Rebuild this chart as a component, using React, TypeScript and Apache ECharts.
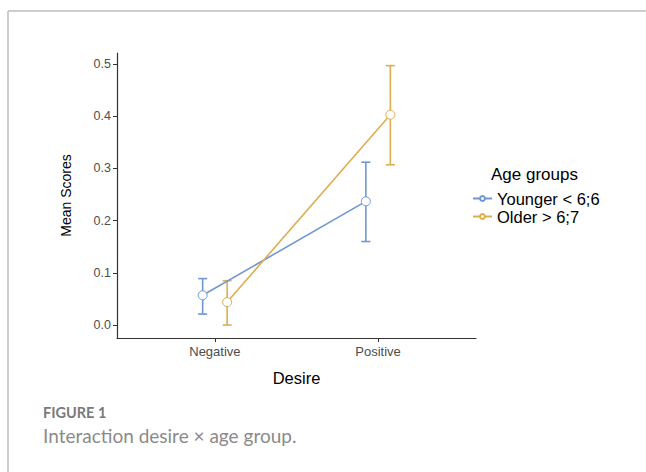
import React, { useEffect, useRef } from "react";
import * as echarts from "echarts";

const categories = ["Negative", "Positive"];
const groups = ["Younger < 6;6", "Older > 6;7"];
const colors = ["#7097d1", "#dcae50"];
const means = [
  [0.057, 0.237],
  [0.044, 0.403],
];
const lows = [
  [0.021, 0.16],
  [0.0, 0.307],
];
const highs = [
  [0.089, 0.312],
  [0.085, 0.497],
];
const yTicks = [0.0, 0.1, 0.2, 0.3, 0.4, 0.5];
const dodge = [-0.075, 0.075];

export default function App() {
  const ref = useRef<HTMLDivElement>(null);
  useEffect(() => {
    if (!ref.current) return;
    const chart = echarts.init(ref.current, null, { renderer: "svg" });
    const font = "Liberation Sans";
    const lineSeries: any[] = groups.map((g, gi) => ({
      name: g,
      type: "line",
      data: categories.map((_, ci) => [ci + 1 + dodge[gi], means[gi][ci]]),
      lineStyle: { color: colors[gi], width: 1.6 },
      itemStyle: { color: "#ffffff", borderColor: colors[gi], borderWidth: 1 },
      symbol: "circle",
      symbolSize: 9,
      z: 5,
    }));
    const errSeries: any[] = groups.map((g, gi) => ({
      name: g + " err",
      type: "custom",
      data: categories.map((_, ci) => [ci + 1 + dodge[gi], lows[gi][ci], highs[gi][ci]]),
      renderItem: (params: any, api: any) => {
        const x = api.value(0);
        const lo = api.coord([x, api.value(1)]);
        const hi = api.coord([x, api.value(2)]);
        const w = 4.5;
        const style = { stroke: colors[gi], lineWidth: 1.6 };
        return {
          type: "group",
          children: [
            { type: "line", shape: { x1: lo[0], y1: lo[1], x2: hi[0], y2: hi[1] }, style },
            { type: "line", shape: { x1: lo[0] - w, y1: lo[1], x2: lo[0] + w, y2: lo[1] }, style },
            { type: "line", shape: { x1: hi[0] - w, y1: hi[1], x2: hi[0] + w, y2: hi[1] }, style },
          ],
        };
      },
      z: 3,
    }));
    chart.setOption({
      animation: false,
      backgroundColor: "#ffffff",
      grid: { left: 117, right: 170, top: 53, bottom: 134 },
      xAxis: {
        type: "value",
        min: 0.4,
        max: 2.6,
        name: "Desire",
        nameLocation: "middle",
        nameGap: 31,
        nameTextStyle: { fontFamily: font, fontSize: 16.5, color: "#000" },
        axisLine: { show: true, onZero: false, lineStyle: { color: "#333", width: 1.2 } },
        axisTick: { show: true, customValues: [1, 2], length: 4, lineStyle: { color: "#333" } },
        axisLabel: {
          customValues: [1, 2],
          formatter: (v: number) => categories[Math.round(v) - 1] ?? "",
          fontFamily: font,
          fontSize: 13,
          color: "#4d4d4d",
          margin: 7,
        },
        splitLine: { show: false },
      },
      yAxis: {
        type: "value",
        min: -0.0248,
        max: 0.5212,
        name: "Mean Scores",
        nameLocation: "middle",
        nameGap: 44,
        nameTextStyle: { fontFamily: font, fontSize: 14, color: "#000" },
        axisLine: { show: true, lineStyle: { color: "#333", width: 1.2 } },
        axisTick: { show: true, customValues: yTicks, length: 4, lineStyle: { color: "#333" } },
        axisLabel: {
          customValues: yTicks,
          formatter: (v: number) => v.toFixed(1),
          fontFamily: font,
          fontSize: 12.5,
          color: "#4d4d4d",
          margin: 6,
        },
        splitLine: { show: false },
      },
      legend: {
        data: groups,
        orient: "vertical",
        left: 467,
        top: 185,
        itemGap: 1,
        itemWidth: 19,
        itemHeight: 6,
        textStyle: { fontFamily: font, fontSize: 16.5, color: "#000" },
      },
      graphic: [
        { type: "line", shape: { x1: 8, y1: 11, x2: 646, y2: 11 }, style: { stroke: "#bdbdbd", lineWidth: 1.5 } },
        { type: "line", shape: { x1: 8, y1: 11, x2: 8, y2: 472 }, style: { stroke: "#bdbdbd", lineWidth: 1.5 } },
        {
          type: "text",
          left: 491,
          top: 166,
          style: { text: "Age groups", fontFamily: font, fontSize: 17, fill: "#000" },
        },
        {
          type: "text",
          left: 43,
          top: 405,
          style: { text: "FIGURE 1", fontFamily: "Lato", fontWeight: "bold", fontSize: 14.5, fill: "#7a7a7a" },
        },
        {
          type: "text",
          left: 43,
          top: 426,
          style: { text: "Interaction desire × age group.", fontFamily: "Lato", fontSize: 19, fill: "#8a8a8a" },
        },
      ],
      series: [...errSeries, ...lineSeries],
    });
    return () => chart.dispose();
  }, []);
  return <div ref={ref} style={{ width: 646, height: 472, position: "absolute", left: 0, top: 0 }} />;
}
